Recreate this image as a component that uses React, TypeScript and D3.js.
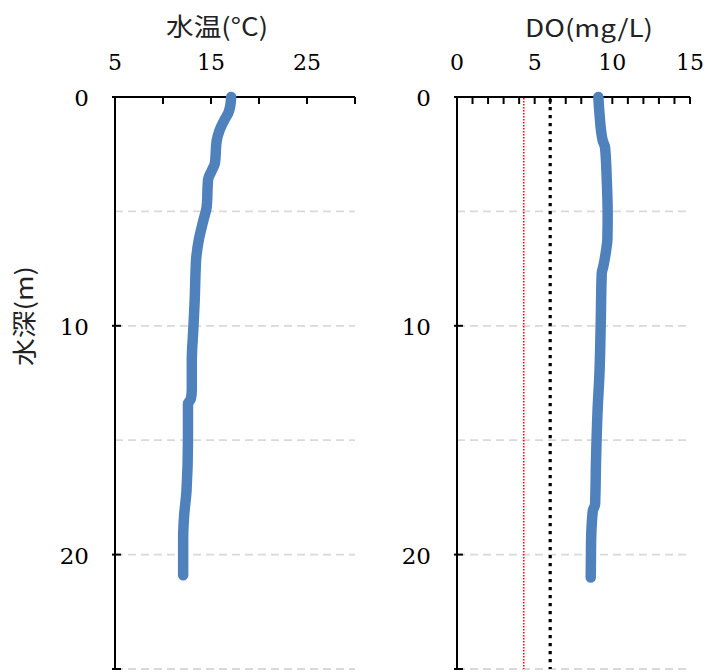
import React from "react";
import * as d3 from "d3";

// ---- data ----
const tempDepth = [0, 0.4, 0.7, 1.0, 1.45, 1.9, 2.9, 3.2, 3.6, 4.8, 5.4, 6.2, 7.1, 7.55, 8.9, 10.2, 11.5, 12.8, 13.2, 13.4, 15.0, 17.2, 18.3, 19.3, 20.0, 20.9];
const tempValues = [17.1, 17.0, 16.8, 16.4, 15.9, 15.6, 15.4, 15.1, 14.7, 14.55, 14.2, 13.75, 13.45, 13.4, 13.3, 13.15, 13.0, 13.0, 12.9, 12.6, 12.6, 12.45, 12.2, 12.1, 12.1, 12.1];
const doDepth = [0, 0.7, 1.9, 2.2, 3.6, 5.1, 6.25, 6.6, 7.4, 7.7, 10.0, 12.1, 13.7, 15.9, 17.8, 18.1, 19.5, 21.0];
const doValues = [9.1, 9.17, 9.38, 9.53, 9.64, 9.7, 9.68, 9.62, 9.42, 9.32, 9.25, 9.17, 9.05, 8.95, 8.89, 8.74, 8.63, 8.61];
const tempTickLabels = [5, 15, 25];
const tempTicks = [5, 10, 15, 20, 25, 30];
const doTickLabels = [0, 5, 10, 15];
const doMinorTicks = d3.range(0, 16, 1);
const depthLabels = [0, 10, 20];
const depthGrid = [5, 10, 15, 20, 25];
const depthCrossTicks = [0, 10, 20, 25];
const redLineValue = 4.3;
const blackLineValue = 6;

const titleTemp = "水温(°C)";
const titleDO = "DO(mg/L)";
const titleDepth = "水深(m)";

const serifStyle = { fontFamily: "'DejaVu Serif', 'Liberation Serif', 'Times New Roman', serif" };
const sans = "Noto Sans CJK JP";
const blue = "#4F81BD";

export default function App() {
  const y = d3.scaleLinear().domain([0, 25]).range([97, 669]);
  const xT = d3.scaleLinear().domain([5, 30]).range([115, 355]);
  const xD = d3.scaleLinear().domain([0, 15]).range([457, 690]);

  const tempLine = d3
    .line<number>()
    .x((_, i) => xT(tempValues[i]))
    .y((d) => y(d))
    .curve(d3.curveMonotoneY);
  const doLine = d3
    .line<number>()
    .x((_, i) => xD(doValues[i]))
    .y((d) => y(d))
    .curve(d3.curveMonotoneY);

  const panel = (
    x: d3.ScaleLinear<number, number>,
    majorTicks: number[],
    labels: number[],
    key: string
  ) => {
    const [x0, x1] = x.range();
    return (
      <g key={key}>
        {depthGrid.map((d) => (
          <line
            key={"g" + d}
            x1={x0}
            x2={x1}
            y1={y(d)}
            y2={y(d)}
            stroke="#d9d9d9"
            strokeWidth={1.8}
            strokeDasharray="8,5"
          />
        ))}
        {majorTicks.map((t) => (
          <line key={"t" + t} x1={x(t)} x2={x(t)} y1={y(0)} y2={y(0) + 7} stroke="#000" strokeWidth={2} />
        ))}
        {labels.map((t) => (
          <text key={"l" + t} x={x(t)} y={70} textAnchor="middle" style={serifStyle} fontSize={22} fill="#000">
            {t}
          </text>
        ))}
        {depthCrossTicks.map((d) => (
          <line key={"c" + d} x1={x0 - 3} x2={x0 + 6} y1={y(d)} y2={y(d)} stroke="#000" strokeWidth={2} />
        ))}
        {depthLabels.map((d) => (
          <text
            key={"d" + d}
            x={x0 - 26}
            y={y(d) + 9}
            textAnchor="end"
            style={serifStyle}
            fontSize={23}
            fill="#000"
          >
            {d}
          </text>
        ))}
        <line x1={x0} x2={x0} y1={y(0)} y2={y(25) + 1} stroke="#000" strokeWidth={2} />
        <line x1={x0 - 1} x2={x1} y1={y(0)} y2={y(0)} stroke="#000" strokeWidth={2} />
      </g>
    );
  };

  return (
    <svg
      width={711}
      height={672}
      style={{ position: "absolute", left: 0, top: 0, background: "#fff" }}
    >
      <rect x={0} y={0} width={711} height={672} fill="#fff" />
      {panel(xT, tempTicks, tempTickLabels, "temp")}
      {panel(xD, doMinorTicks, doTickLabels, "do")}

      <line
        x1={xD(redLineValue)}
        x2={xD(redLineValue)}
        y1={y(0) + 1}
        y2={y(25)}
        stroke="#ff0000"
        strokeWidth={1.5}
        strokeDasharray="1.5,1.5"
      />
      <line
        x1={xD(blackLineValue)}
        x2={xD(blackLineValue)}
        y1={y(0) + 2}
        y2={y(25)}
        stroke="#000"
        strokeWidth={3.2}
        strokeDasharray="3.2,4.8"
      />

      <path d={tempLine(tempDepth) || ""} fill="none" stroke={blue} strokeWidth={10.5} strokeLinecap="round" strokeLinejoin="round" />
      <path d={doLine(doDepth) || ""} fill="none" stroke={blue} strokeWidth={10.5} strokeLinecap="round" strokeLinejoin="round" />

      <text x={217} y={36} textAnchor="middle" fontFamily={sans} fontSize={25} fill="#222" textLength={102} lengthAdjust="spacingAndGlyphs">
        {titleTemp}
      </text>
      <text x={589} y={37} textAnchor="middle" fontFamily={sans} fontSize={24} fill="#222" textLength={128} lengthAdjust="spacingAndGlyphs">
        {titleDO}
      </text>
      <text
        transform="translate(33,316) rotate(-90)"
        textAnchor="middle"
        fontFamily={sans}
        fontSize={24}
        fill="#222"
        textLength={100}
        lengthAdjust="spacingAndGlyphs"
      >
        {titleDepth}
      </text>
    </svg>
  );
}
